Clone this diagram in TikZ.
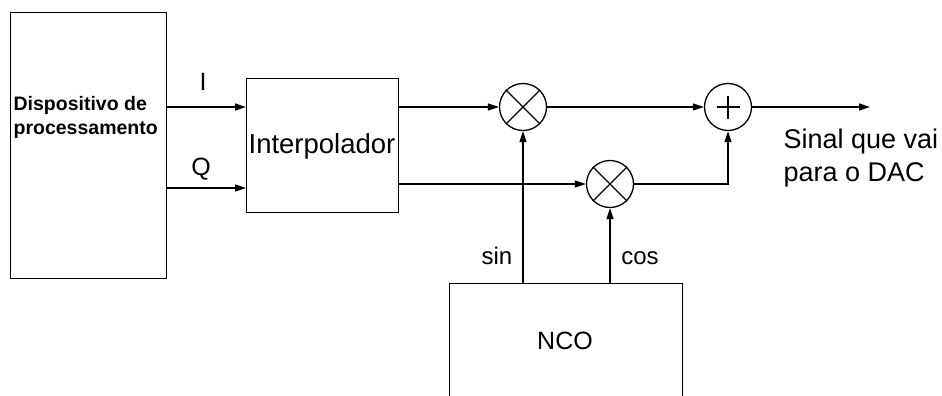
\documentclass[tikz,border=0pt]{standalone}
\usepackage{fontspec}
\setmainfont{Liberation Sans}
\usetikzlibrary{arrows.meta,calc}
\begin{document}
\begin{tikzpicture}[x=1pt,y=-1pt,
  line width=1.3pt,
  blockbox/.style={draw, rectangle, inner sep=0, anchor=north west},
  mixer/.style={draw, circle, inner sep=0, minimum size=47pt},
  arr/.style={-{Triangle[length=11pt,width=7pt]}},
  lbl/.style={inner sep=0, font=\fontsize{24}{28}\selectfont}]
\useasboundingbox (0,0) rectangle (942,396);
% blocks
\node[blockbox, minimum width=156pt, minimum height=266pt] (dsp) at (10,12) {};
\node[inner sep=0, anchor=north west, align=left, font=\bfseries\fontsize{19.5}{24}\selectfont] (dsptxt) at (13,96) {Dispositivo de\\processamento};
\node[blockbox, minimum width=152pt, minimum height=134pt] (interp) at (246,78) {};
\node[inner sep=0, anchor=base, font=\fontsize{27.5}{32}\selectfont] (interptxt) at (322,153) {Interpolador};
\node[blockbox, minimum width=233pt, minimum height=120pt] (nco) at (449,283) {};
\node[lbl, anchor=base, font=\fontsize{25}{30}\selectfont] (ncotxt) at (565,349) {NCO};
% mixers and adder
\node[mixer] (m1) at (523,107) {};
\draw (m1.north east) -- (m1.south west) (m1.north west) -- (m1.south east);
\node[mixer] (m2) at (610,184) {};
\draw (m2.north east) -- (m2.south west) (m2.north west) -- (m2.south east);
\node[mixer] (sum) at (728,107) {};
\draw[line width=1.5pt] ($(sum.center)+(-11.5,0)$) -- ($(sum.center)+(11.5,0)$) ($(sum.center)+(0,-11.5)$) -- ($(sum.center)+(0,11.5)$);
\coordinate (qy) at (0,188);
\coordinate (iy) at (0,107);
\coordinate (out) at (870,107);
% connectors
\draw[arr] (dsp.east |- iy) -- (interp.west |- iy);
\draw[arr] (dsp.east |- qy) -- (interp.west |- qy);
\draw[arr] (interp.east |- m1) -- (m1.west);
\draw[arr] (interp.east |- m2) -- (m2.west);
\draw[arr] (m1.east) -- (sum.west);
\draw[arr] (m2.east) -| (sum.south);
\draw[arr] (sum.east) -- (out);
\draw[arr] (nco.north -| m1) -- (m1.south);
\draw[arr] (nco.north -| m2) -- (m2.south);
% labels
\node[lbl, anchor=base, font=\fontsize{25}{30}\selectfont] (ilbl) at (203,90) {I};
\node[lbl, anchor=base, font=\fontsize{25}{30}\selectfont] (qlbl) at (201,175) {Q};
\node[lbl, anchor=base] (sinlbl) at (497,264) {sin};
\node[lbl, anchor=base] (coslbl) at (640,264) {cos};
\node[inner sep=0, anchor=north west, align=left, font=\fontsize{27}{33}\selectfont] (outlbl) at (783,128) {Sinal que vai\\para o DAC};
\end{tikzpicture}
\end{document}
